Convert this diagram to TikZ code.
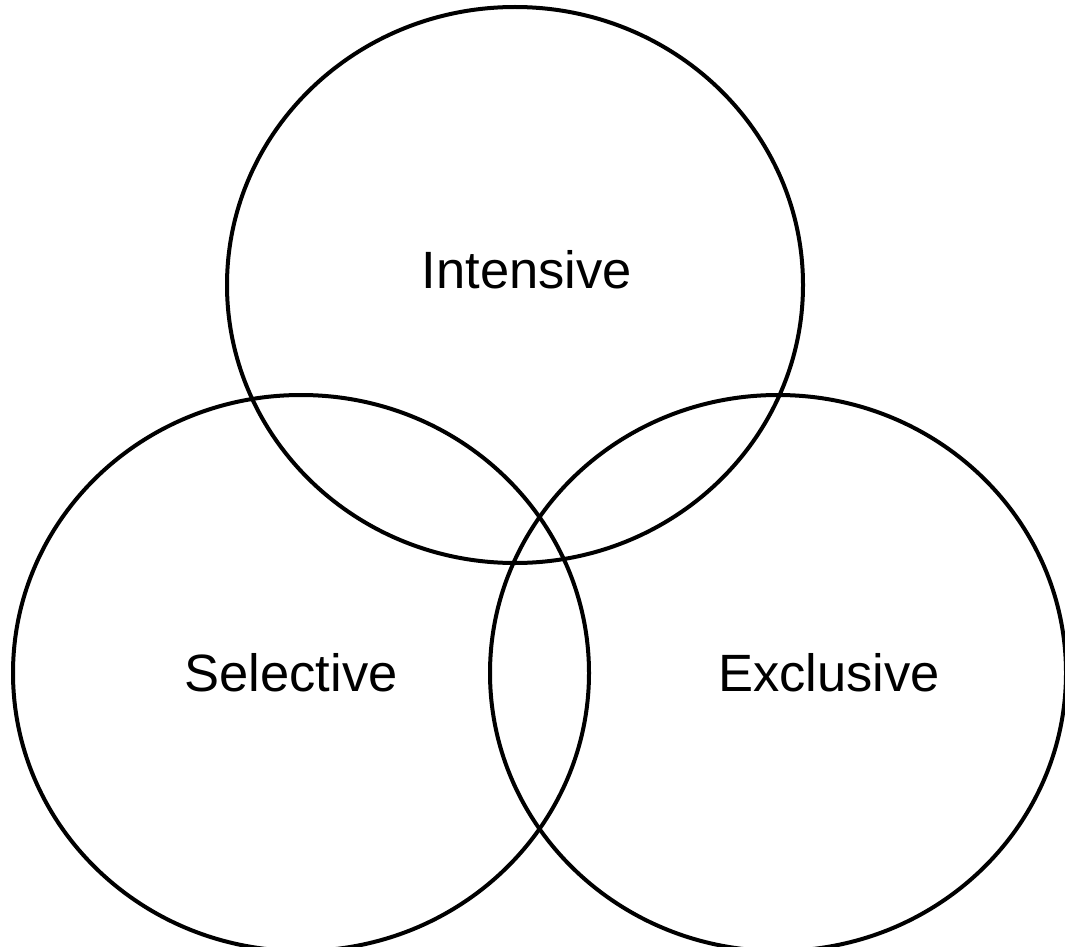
\documentclass[tikz,border=0pt]{standalone}
\usepackage{fontspec}
\setmainfont{Liberation Sans}
\usepackage{tikz}
\usetikzlibrary{shapes.geometric}

\begin{document}
\begin{tikzpicture}[x=0.5pt, y=-0.5pt,
  ring/.style={draw, ellipse, line width=2pt, inner sep=0pt, minimum width=288pt, minimum height=278pt},
  tag/.style={font=\fontsize{26.25}{30}\selectfont, inner sep=0pt}]
\clip (0,0) rectangle (1065,947);
\useasboundingbox (0,0) rectangle (1065,947);

\node[ring] (intensive) at (515,285) {};
\node[ring] (selective) at (301,673) {};
\node[ring] (exclusive) at (778,673) {};

%\node[tag] (intensivelabel) at (515,270) {Intensive};
\node[tag] (intensivelabel) at (527,270) {Intensive};
\node[tag] (selectivelabel) at (291,673) {Selective};
\node[tag] (exclusivelabel) at (829,673) {Exclusive};

\end{tikzpicture}
\end{document}
